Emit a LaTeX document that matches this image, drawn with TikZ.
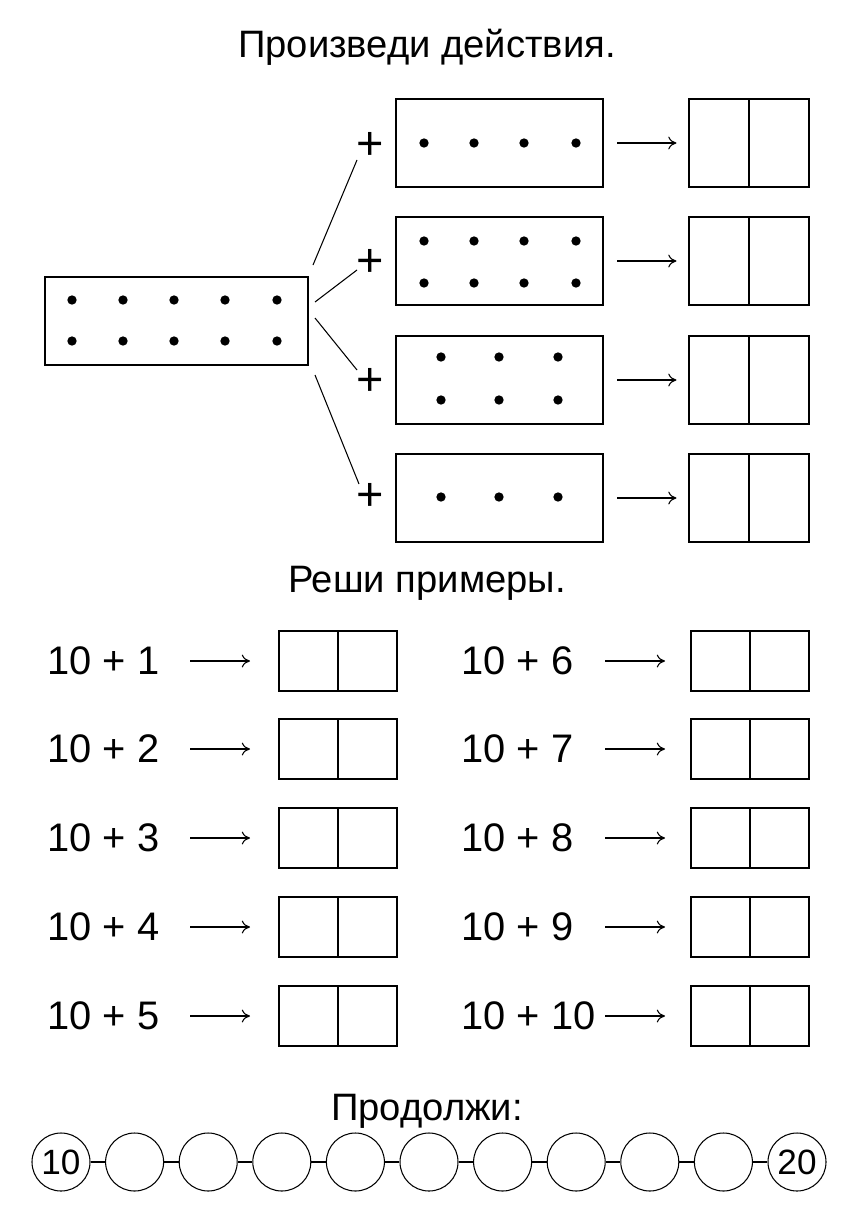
\documentclass[tikz,border=0pt]{standalone}
\usepackage{fontspec}
\setmainfont{Liberation Sans}
\usetikzlibrary{positioning,arrows.meta}
\begin{document}
\begin{tikzpicture}[x=0.03cm,y=-0.03cm,>={To[length=7pt,width=11pt]},line width=0.9pt]
 \tikzstyle{dotbox} = [draw,minimum width=207*0.03cm,minimum height=88*0.03cm,inner sep=0]
 \tikzstyle{ansbox} = [draw,minimum width=120*0.03cm,minimum height=88*0.03cm,inner sep=0]
 \tikzstyle{smallans} = [draw,minimum width=118*0.03cm,minimum height=60*0.03cm,inner sep=0]
 \tikzstyle{dot} = [fill,circle,inner sep=0,minimum size=0.28cm]
 \tikzstyle{ring} = [draw,circle,inner sep=0,minimum size=58*0.03cm]
 \tikzstyle{title} = [font=\fontsize{32.6}{38}\selectfont]
 \tikzstyle{plus} = [font=\fontsize{40}{44}\selectfont,inner sep=0]
 \tikzstyle{eq} = [font=\fontsize{34}{40}\selectfont,anchor=west,inner sep=0]
 \useasboundingbox (0,0) rectangle (854,1207);
 \node[title] (t1) at (427,47) {Произведи действия.};
 % left box
 \node[draw,minimum width=263*0.03cm,minimum height=88*0.03cm,inner sep=0] (src) at (176.5,321) {};
 \foreach \x in {72,123,174,225,277} \foreach \y in {300,341} \node[dot] at (\x,\y) {};
 % right boxes
 \foreach \i/\y in {1/143,2/261,3/380,4/498} {
  \node[dotbox] (b\i) at (499.5,\y) {};
  \node[ansbox] (a\i) at (749,\y) {};
  \draw (a\i.north) -- (a\i.south);
  \draw[->,shorten >=0.36cm] (617,\y) -- (a\i.west);
 }
 \node[plus] (p1) at (370,146) {+};
 \node[plus] (p2) at (370,263) {+};
 \node[plus] (p3) at (370,382) {+};
 \node[plus] (p4) at (370,497) {+};
 \coordinate (s1) at (313,265); \coordinate (s2) at (315,302);
 \coordinate (s3) at (315,318); \coordinate (s4) at (315,375);
 \draw (s1) -- (357,160); \draw (s2) -- (357,270);
 \draw (s3) -- (357,370); \draw (s4) -- (359,484);
 \foreach \x in {424,474,524,576} {
  \node[dot] at (\x,143) {};
  \node[dot] at (\x,241) {}; \node[dot] at (\x,283) {};
 }
 \foreach \x in {441,499,558} {
  \node[dot] at (\x,357) {}; \node[dot] at (\x,400) {};
  \node[dot] at (\x,497) {};
 }
 % examples
 \node[title] (t2) at (427,583) {Реши примеры.};
 \foreach \n/\y in {1/661,2/749,3/838,4/927,5/1016} {
  \node[eq] (l\n) at (47,\y) {10 + \n};
  \node[smallans] (la\n) at (338,\y) {};
  \draw (la\n.north) -- (la\n.south);
  \draw[->] (190,\y) -- (250,\y);
 }
 \foreach \n/\m/\y in {1/6/661,2/7/749,3/8/838,4/9/927,5/10/1016} {
  \node[eq] (r\n) at (461,\y) {10 + \m};
  \node[smallans] (ra\n) at (750,\y) {};
  \draw (ra\n.north) -- (ra\n.south);
  \draw[->] (605,\y) -- (665,\y);
 }
 % chain
 \node[title] (t3) at (427,1111) {Продолжи:};
 \foreach \k in {0,...,10} \node[ring] (c\k) at (61+73.6*\k,1162) {};
 \node[font=\fontsize{30}{34}\selectfont] at (c0) {10};
 \node[font=\fontsize{30}{34}\selectfont] at (c10) {20};
 \foreach \k [count=\j from 1] in {0,...,9} \draw (c\k) -- (c\j);
\end{tikzpicture}
\end{document}
